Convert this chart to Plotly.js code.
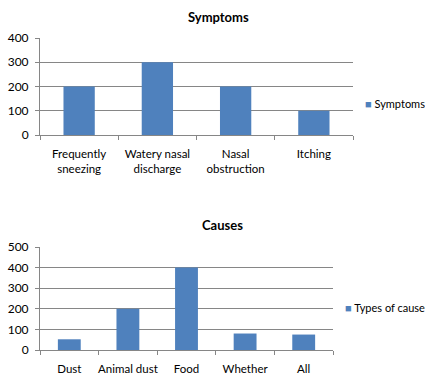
<!DOCTYPE html>
<html><head><meta charset="utf-8">
<script src="https://cdn.plot.ly/plotly-3.0.1.min.js"></script>
<style>html,body{margin:0;padding:0;background:#fff;}#chart{width:425px;height:374px;}</style>
</head><body><div id="chart"></div>
<script>
const symptomCategories = ["Frequently<br>sneezing", "Watery nasal<br>discharge", "Nasal<br>obstruction", "Itching"];
const symptomValues = [200, 300, 200, 100];
const causeCategories = ["Dust", "Animal dust", "Food", "Whether", "All"];
const causeValues = [52, 200, 400, 80, 75];
const symptomSeriesName = "Symptoms";
const causeSeriesName = "Types of cause";

const W = 425, H = 374;
const px = v => v / W;
const py = v => 1 - v / H;
const barColor = "#4F81BD";
const fontFam = "Lato, 'Open Sans', sans-serif";

const traces = [
  {type: "bar", x: symptomCategories, y: symptomValues, name: symptomSeriesName,
   marker: {color: barColor}, width: 0.4, xaxis: "x", yaxis: "y", showlegend: false},
  {type: "bar", x: causeCategories, y: causeValues, name: causeSeriesName,
   marker: {color: barColor}, width: 0.39, xaxis: "x2", yaxis: "y2", showlegend: false}
];

const axCommon = {
  showline: true, linecolor: "#868686", linewidth: 1,
  fixedrange: true, automargin: false
};
const xCommon = Object.assign({}, axCommon, {
  ticks: "outside", tickson: "boundaries", ticklen: 4, tickcolor: "#868686",
  tickangle: 0, ticklabelstandoff: 8,
  tickfont: {family: fontFam, size: 11.5, color: "#000"}
});
const yCommon = Object.assign({}, axCommon, {
  dtick: 100, showgrid: true, gridcolor: "#868686", gridwidth: 1,
  ticks: "outside", ticklen: 4, tickcolor: "#868686", zeroline: false,
  ticklabelstandoff: 4, tickfont: {family: fontFam, size: 12, color: "#000"}
});

const legendText = name => `<span style="color:${barColor}">■</span> ${name}`;

const layout = {
  width: W, height: H,
  margin: {l: 0, r: 0, t: 0, b: 0},
  paper_bgcolor: "#fff", plot_bgcolor: "#fff",
  font: {family: fontFam, size: 11, color: "#000"},
  showlegend: false,
  xaxis: Object.assign({}, xCommon, {domain: [px(40), px(353)], anchor: "y"}),
  yaxis: Object.assign({}, yCommon, {domain: [py(135), py(38)], anchor: "x", range: [0, 400]}),
  xaxis2: Object.assign({}, xCommon, {domain: [px(40), px(333)], anchor: "y2"}),
  yaxis2: Object.assign({}, yCommon, {domain: [py(350), py(247)], anchor: "x2", range: [0, 500]}),
  annotations: [
    {text: "<b>Symptoms</b>", x: px(218), y: py(17), xref: "paper", yref: "paper",
     xanchor: "center", yanchor: "middle",
     showarrow: false, font: {family: fontFam, size: 13, color: "#000"}},
    {text: "<b>Causes</b>", x: px(222), y: py(225), xref: "paper", yref: "paper",
     xanchor: "center", yanchor: "middle",
     showarrow: false, font: {family: fontFam, size: 13, color: "#000"}},
    {text: legendText(symptomSeriesName), x: px(363), y: py(103), xref: "paper", yref: "paper",
     xanchor: "left", yanchor: "middle", showarrow: false,
     font: {family: fontFam, size: 11, color: "#000"}},
    {text: legendText(causeSeriesName), x: px(343), y: py(307), xref: "paper", yref: "paper",
     xanchor: "left", yanchor: "middle", showarrow: false,
     font: {family: fontFam, size: 11, color: "#000"}}
  ]
};

Plotly.newPlot("chart", traces, layout, {displayModeBar: false, staticPlot: true});
</script>
</body></html>
